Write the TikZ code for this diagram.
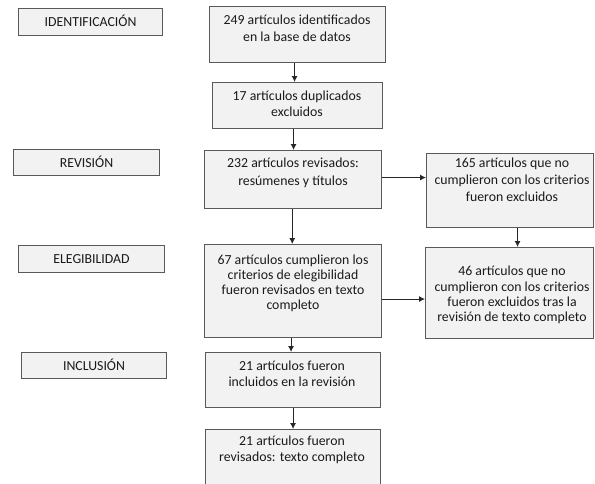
\documentclass[tikz,border=0pt]{standalone}
\usepackage{fontspec}
\setmainfont{Carlito}
\usetikzlibrary{arrows.meta}
\definecolor{boxline}{HTML}{595959}
\definecolor{boxfill}{HTML}{F2F2F2}
\definecolor{arrcol}{HTML}{262626}
\definecolor{txtcol}{HTML}{1A1A1A}
\newcommand\fsz[2]{\fontsize{#1}{#2}\selectfont}
\tikzset{
  box/.style={draw=boxline, fill=boxfill, line width=1.1pt, inner sep=0pt, anchor=north west},
  txt/.style={align=center, inner sep=0pt, anchor=north, text=txtcol},
  lab/.style={box, text height=9pt, text depth=0pt, text=txtcol, font=\fsz{13.8}{16}},
  arr/.style={draw=arrcol, line width=0.9pt, -{Latex[length=6pt,width=6pt]}}
}
\begin{document}
\begin{tikzpicture}[x=1pt,y=-1pt]
\useasboundingbox (0,0) rectangle (595,483);
\clip (0,0) rectangle (595,483);
% left labels
\node[lab, minimum width=144pt, minimum height=27pt] (l1) at (18,8) {IDENTIFICACIÓN};
\node[lab, minimum width=146pt, minimum height=26pt] (l2) at (13,149) {REVISIÓN};
\node[lab, minimum width=146pt, minimum height=27pt] (l3) at (18,245) {ELEGIBILIDAD};
\node[lab, minimum width=145pt, minimum height=26pt] (l4) at (21,352) {INCLUSIÓN};
% main column boxes
\node[box, minimum width=176pt, minimum height=56pt] (b1) at (209,6) {};
\node[box, minimum width=170pt, minimum height=46pt] (b2) at (212,82) {};
\node[box, minimum width=177pt, minimum height=58pt] (b3) at (204,150) {};
\node[box, minimum width=177pt, minimum height=93pt] (b4) at (204,244) {};
\node[box, minimum width=175pt, minimum height=55pt] (b5) at (205,352) {};
\node[box, minimum width=175pt, minimum height=70pt] (b6) at (205,429) {};
% right boxes
\node[box, minimum width=167pt, minimum height=74pt] (r1) at (426,153) {};
\node[box, minimum width=168pt, minimum height=91pt] (r2) at (425,247) {};
% texts
\node[txt, font=\fsz{13.8}{17.5}] (t1) at (297,11.75) {\strut 249 artículos identificados\\en la base de datos};
\node[txt, font=\fsz{13.8}{16.7}] (t2) at (297,88.3) {\strut 17 artículos duplicados\\excluidos};
\node[txt, font=\fsz{13.8}{17.4}] (t3) at (293,155.3) {\strut 232 artículos revisados:\\resúmenes y títulos};
\node[txt, font=\fsz{13.8}{15}] (t4) at (293,253.5) {\strut 67 artículos cumplieron los\\criterios de elegibilidad\\fueron revisados en texto\\completo};
\node[txt, font=\fsz{13.8}{16}] (t5) at (292,359.3) {\strut 21 artículos fueron\\incluidos en la revisión};
\node[txt, font=\fsz{13.8}{16.7}] (t6) at (292,433.3) {\strut 21 artículos fueron\\revisados: texto completo};
\node[txt, font=\fsz{13.8}{17}] (t7) at (512,155.6) {\strut 165 artículos que no\\cumplieron con los criterios\\fueron excluidos};
\node[txt, font=\fsz{13.8}{15.3}] (t8) at (512,264.8) {\strut 46 artículos que no\\cumplieron con los criterios\\fueron excluidos tras la\\revisión de texto completo};
% arrows
\draw[arr] ([xshift=-3pt]b1.south) -- ([xshift=-3pt]b1.south |- b2.north);
\draw[arr] ([xshift=-4pt]b2.south) -- ([xshift=-4pt]b2.south |- b3.north);
\draw[arr] ([xshift=-0.8pt]b3.south) -- ([xshift=-0.8pt]b3.south |- b4.north);
\draw[arr] ([xshift=-2pt]b4.south) -- ([xshift=-2pt]b4.south |- b5.north);
\draw[arr] ([xshift=0pt]b5.south) -- ([xshift=0pt]b5.south |- b6.north);
\draw[arr] ([yshift=2pt]b3.east) -- ([yshift=2pt]b3.east -| r1.west);
\draw[arr] ([yshift=-8pt]b4.east) -- ([yshift=-8pt]b4.east -| r2.west);
\draw[arr] ([xshift=7.5pt]r1.south) -- ([xshift=7.5pt]r1.south |- r2.north);
\end{tikzpicture}
\end{document}
